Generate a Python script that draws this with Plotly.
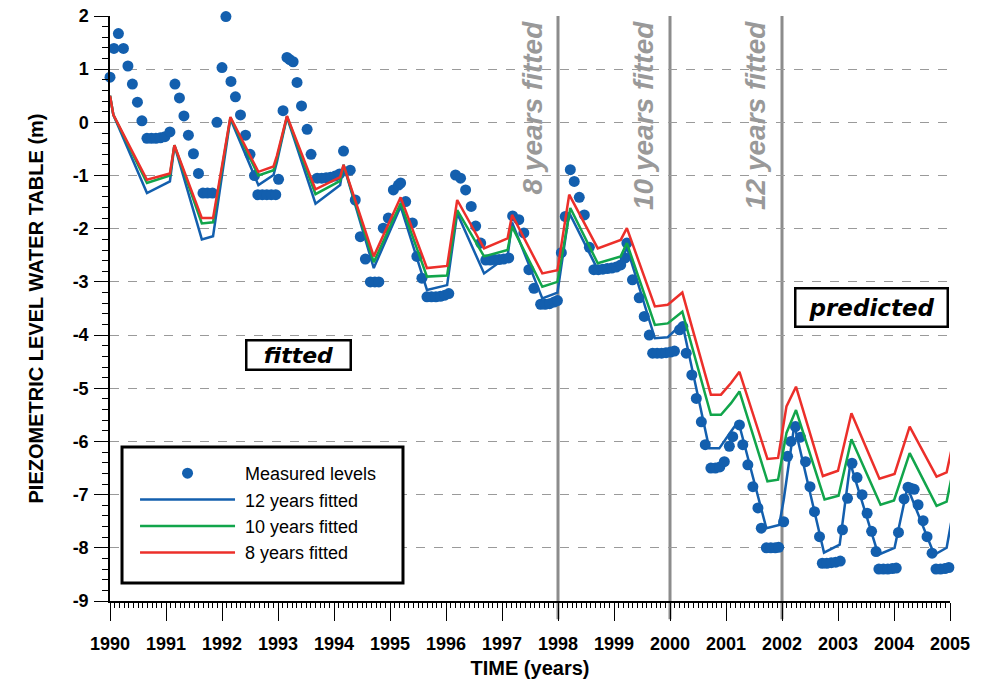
import plotly.graph_objects as go

# ---------------- data ----------------
meas_t = [1990.00, 1990.07, 1990.15, 1990.24, 1990.32, 1990.40, 1990.49, 1990.57, 1990.66, 1990.74,
          1990.82, 1990.90, 1990.98, 1991.07, 1991.16, 1991.24, 1991.32, 1991.40, 1991.49, 1991.58,
          1991.66, 1991.74, 1991.83, 1991.91, 1992.00, 1992.07, 1992.16, 1992.24, 1992.33, 1992.42,
          1992.50, 1992.58, 1992.64, 1992.72, 1992.80, 1992.88, 1992.96, 1993.01, 1993.09, 1993.16,
          1993.21, 1993.27, 1993.34, 1993.42, 1993.52, 1993.59, 1993.70, 1993.78, 1993.86, 1993.94,
          1994.02, 1994.10, 1994.17, 1994.29, 1994.38, 1994.47, 1994.56, 1994.65, 1994.73, 1994.80,
          1994.88, 1994.97, 1995.06, 1995.15, 1995.19, 1995.28, 1995.40, 1995.48, 1995.57, 1995.66,
          1995.74, 1995.82, 1995.90, 1995.98, 1996.05, 1996.17, 1996.26, 1996.35, 1996.45, 1996.53,
          1996.62, 1996.71, 1996.79, 1996.87, 1996.95, 1997.03, 1997.12, 1997.19, 1997.30, 1997.39,
          1997.48, 1997.57, 1997.69, 1997.77, 1997.85, 1997.93, 1997.99, 1998.06, 1998.13, 1998.22,
          1998.29, 1998.38, 1998.47, 1998.56, 1998.64, 1998.72, 1998.80, 1998.88, 1998.96, 1999.04,
          1999.12, 1999.20, 1999.23, 1999.33, 1999.45, 1999.54, 1999.63, 1999.69, 1999.77, 1999.85,
          1999.93, 2000.01, 2000.08, 2000.17, 2000.23, 2000.29, 2000.39, 2000.47, 2000.56, 2000.63,
          2000.73, 2000.81, 2000.89, 2000.97, 2001.06, 2001.12, 2001.24, 2001.30, 2001.39, 2001.48,
          2001.57, 2001.63, 2001.72, 2001.80, 2001.88, 2001.94, 2002.03, 2002.10, 2002.16, 2002.24,
          2002.33, 2002.42, 2002.50, 2002.58, 2002.67, 2002.72, 2002.80, 2002.88, 2002.96, 2003.04,
          2003.08, 2003.17, 2003.25, 2003.34, 2003.43, 2003.52, 2003.60, 2003.68, 2003.73, 2003.81,
          2003.89, 2003.97, 2004.04, 2004.08, 2004.18, 2004.25, 2004.30, 2004.36, 2004.43, 2004.52,
          2004.59, 2004.68, 2004.75, 2004.83, 2004.91, 2004.98, 2005.02]
meas_v = [0.85, 1.39, 1.67, 1.39, 1.06, 0.72, 0.38, 0.03, -0.30, -0.30,
          -0.30, -0.29, -0.27, -0.18, 0.72, 0.46, 0.12, -0.24, -0.59, -0.96,
          -1.33, -1.33, -1.33, 0.00, 1.03, 1.99, 0.77, 0.48, 0.14, -0.24,
          -0.60, -1.00, -1.36, -1.36, -1.36, -1.36, -1.36, -1.07, 0.22, 1.22,
          1.18, 1.14, 0.75, 0.31, -0.13, -0.60, -1.05, -1.05, -1.04, -1.03,
          -1.01, -0.97, -0.54, -0.90, -1.46, -2.15, -2.57, -3.00, -3.00, -3.00,
          -1.99, -1.80, -1.27, -1.18, -1.14, -1.49, -1.89, -2.52, -2.93, -3.28,
          -3.28, -3.28, -3.27, -3.25, -3.22, -0.99, -1.05, -1.27, -1.58, -1.95,
          -2.27, -2.59, -2.59, -2.58, -2.58, -2.57, -2.55, -1.76, -1.83, -2.08,
          -2.77, -3.12, -3.42, -3.42, -3.41, -3.38, -3.35, -2.45, -1.77, -0.89,
          -1.11, -1.41, -1.74, -2.35, -2.77, -2.77, -2.76, -2.75, -2.74, -2.72,
          -2.68, -2.55, -2.27, -2.96, -3.30, -3.65, -4.00, -4.34, -4.34, -4.34,
          -4.33, -4.32, -4.30, -3.90, -3.84, -4.34, -4.75, -5.19, -5.63, -6.06,
          -6.50, -6.50, -6.48, -6.38, -6.09, -5.91, -5.69, -6.06, -6.44, -6.85,
          -7.25, -7.63, -8.00, -8.00, -8.00, -7.99, -7.51, -6.28, -6.00, -5.72,
          -5.92, -6.38, -6.85, -7.32, -7.79, -8.29, -8.29, -8.28, -8.27, -8.25,
          -7.66, -7.07, -6.41, -6.68, -7.00, -7.35, -7.69, -8.07, -8.40, -8.40,
          -8.40, -8.39, -8.38, -7.71, -7.08, -6.86, -6.88, -6.90, -7.19, -7.49,
          -7.79, -8.10, -8.40, -8.40, -8.39, -8.37, -7.66]

fit12_t = [1990.0, 1990.06, 1990.66, 1991.07, 1991.15, 1991.64, 1991.84, 1992.15, 1992.65, 1992.92,
           1992.98, 1993.16, 1993.67, 1994.11, 1994.17, 1994.71, 1995.19, 1995.66, 1996.02, 1996.20,
           1996.68, 1997.10, 1997.18, 1997.72, 1997.99, 1998.20, 1998.71, 1999.12, 1999.23, 1999.73,
           1999.96, 2000.22, 2000.70, 2000.88, 2001.07, 2001.22, 2001.72, 2001.95, 2002.03, 2002.22,
           2002.75, 2003.03, 2003.22, 2003.72, 2004.01, 2004.24, 2004.72, 2004.94, 2005.02]
fit12_v = [0.50, 0.14, -1.33, -1.11, -0.43, -2.20, -2.14, 0.07, -1.18, -0.99,
           -0.75, 0.10, -1.53, -1.18, -0.80, -2.74, -1.58, -3.15, -3.06, -1.71,
           -2.84, -2.52, -1.88, -3.31, -3.20, -1.70, -2.77, -2.65, -2.35, -4.06,
           -4.04, -3.78, -6.13, -6.13, -5.84, -5.62, -7.63, -7.57, -7.10, -5.69,
           -8.09, -7.94, -6.41, -8.13, -8.00, -6.86, -8.13, -8.00, -7.53]

fit10_t = [1990.0, 1990.06, 1990.66, 1991.07, 1991.15, 1991.64, 1991.84, 1992.15, 1992.65, 1992.92,
           1992.98, 1993.16, 1993.67, 1994.11, 1994.17, 1994.71, 1995.19, 1995.66, 1996.02, 1996.20,
           1996.68, 1997.10, 1997.18, 1997.72, 1997.99, 1998.22, 1998.71, 1999.12, 1999.23, 1999.73,
           1999.96, 2000.22, 2000.73, 2000.91, 2001.09, 2001.24, 2001.74, 2001.93, 2002.08, 2002.25,
           2002.76, 2003.01, 2003.24, 2003.76, 2004.00, 2004.28, 2004.76, 2004.94, 2005.02]
fit10_v = [0.50, 0.14, -1.14, -1.00, -0.43, -1.90, -1.88, 0.09, -1.00, -0.90,
           -0.68, 0.11, -1.35, -1.10, -0.80, -2.63, -1.52, -2.90, -2.88, -1.65,
           -2.52, -2.40, -1.96, -3.09, -3.00, -1.61, -2.65, -2.52, -2.27, -3.81,
           -3.78, -3.56, -5.50, -5.50, -5.28, -5.06, -6.75, -6.72, -5.84, -5.41,
           -7.09, -7.02, -5.96, -7.19, -7.11, -6.22, -7.21, -7.13, -6.72]

fit8_t = [1990.0, 1990.06, 1990.66, 1991.07, 1991.15, 1991.64, 1991.84, 1992.15, 1992.65, 1992.92,
          1992.98, 1993.16, 1993.67, 1994.11, 1994.17, 1994.71, 1995.19, 1995.66, 1996.02, 1996.20,
          1996.68, 1997.10, 1997.18, 1997.72, 1997.99, 1998.20, 1998.71, 1999.12, 1999.23, 1999.73,
          1999.96, 2000.22, 2000.73, 2000.91, 2001.09, 2001.24, 2001.74, 2001.93, 2002.08, 2002.25,
          2002.73, 2003.00, 2003.24, 2003.74, 2004.01, 2004.28, 2004.76, 2004.94, 2005.02]
fit8_v = [0.50, 0.14, -1.08, -0.96, -0.43, -1.80, -1.80, 0.10, -0.93, -0.83,
          -0.63, 0.12, -1.26, -1.03, -0.80, -2.52, -1.41, -2.74, -2.70, -1.46,
          -2.37, -2.18, -1.74, -2.84, -2.78, -1.36, -2.37, -2.21, -1.99, -3.46,
          -3.43, -3.20, -5.12, -5.12, -4.90, -4.69, -6.33, -6.31, -5.34, -4.97,
          -6.65, -6.55, -5.47, -6.70, -6.61, -5.72, -6.66, -6.58, -6.19]

year_ticks = list(range(1990, 2006))
level_ticks = list(range(-9, 3))
level_labels = ["-9", "-8", "-7", "-6", "-5", "-4", "-3", "-2", "-1", "0", "1", "2"]
split_years = [1998, 2000, 2002]
split_labels = ["8 years fitted", "10 years fitted", "12 years fitted"]
series_names = ["Measured levels", "12 years fitted", "10 years fitted", "8 years fitted"]

BLUE = "#135fae"
GREEN = "#11a54b"
RED = "#ec2f2a"
FONT = "Liberation Sans, Arial, sans-serif"
NB = "\u00a0"

fig = go.Figure()
fig.add_trace(go.Scatter(x=meas_t, y=meas_v, mode="markers", name=NB + series_names[0] + NB * 4,
                         legendgroup="a", marker=dict(color=BLUE, size=11), cliponaxis=False))
fig.add_trace(go.Scatter(x=fit12_t, y=fit12_v, mode="lines", name=NB + series_names[1],
                         legendgroup="b", line=dict(color=BLUE, width=2.5), cliponaxis=False))
fig.add_trace(go.Scatter(x=fit10_t, y=fit10_v, mode="lines", name=NB + series_names[2],
                         legendgroup="c", line=dict(color=GREEN, width=2.5), cliponaxis=False))
fig.add_trace(go.Scatter(x=fit8_t, y=fit8_v, mode="lines", name=NB + series_names[3],
                         legendgroup="d", line=dict(color=RED, width=2.5), cliponaxis=False))

for yr, lab in zip(split_years, split_labels):
    fig.add_shape(type="line", x0=yr, x1=yr, y0=-0.031, y1=1, xref="x", yref="paper",
                  line=dict(color="#8c8c8c", width=3), layer="below")
    fig.add_annotation(x=yr, y=1, xref="x", yref="paper", text=lab, textangle=-90,
                       showarrow=False, xanchor="right", yanchor="top", xshift=-9, yshift=-3,
                       font=dict(family=FONT, size=28, color="#999999", weight="bold", style="italic"))

# legend frame (white box with heavy border)
fig.add_shape(type="rect", xref="paper", yref="paper", x0=0.0143, x1=0.3488, y0=0.0308, y1=0.2632,
              fillcolor="white", line=dict(color="black", width=3), layer="above")

fig.add_annotation(x=1993.37, y=-4.37, text=NB * 2 + "fitted" + NB * 2, showarrow=False,
                   font=dict(family="DejaVu Sans, sans-serif", size=22, color="black",
                             weight="bold", style="italic"),
                   bordercolor="black", borderwidth=2.5, borderpad=1, bgcolor="white")
fig.add_annotation(x=2003.60, y=-3.49, text=NB + "predicted" + NB, showarrow=False,
                   font=dict(family="DejaVu Sans, sans-serif", size=23, color="black",
                             weight="bold", style="italic"),
                   bordercolor="black", borderwidth=2.5, borderpad=5, bgcolor="white")

fig.update_layout(
    width=981, height=679,
    margin=dict(l=110, r=31, t=16, b=78, autoexpand=False),
    plot_bgcolor="white", paper_bgcolor="white",
    font=dict(family=FONT, color="black"),
    showlegend=True,
    legend=dict(x=0.0298, y=0.2496, xanchor="left", yanchor="top",
                borderwidth=0, bgcolor="rgba(0,0,0,0)",
                font=dict(family=FONT, size=18, color="black"),
                itemwidth=95, tracegroupgap=0, traceorder="grouped"),
    xaxis=dict(range=[1990, 2005], tickvals=year_ticks, ticktext=[str(y) for y in year_ticks],
               automargin=False,
               showgrid=False, zeroline=False, showline=True, linecolor="black", linewidth=1.5,
               ticks="outside", ticklen=18, tickwidth=1.2, tickcolor="black",
               ticklabelstandoff=8,
               minor=dict(dtick=1/12, tick0=1990, ticks="outside", ticklen=5, tickcolor="black",
                          tickwidth=1, showgrid=False),
               tickfont=dict(family=FONT, size=18, weight="bold"),
               title=dict(text="TIME (years)", font=dict(family=FONT, size=20, weight="bold"),
                          standoff=8)),
    yaxis=dict(range=[-9, 2], tickvals=level_ticks, ticktext=level_labels, automargin=False,
               showgrid=True, gridcolor="#9a9a9a", griddash="dash", gridwidth=1,
               zeroline=False, showline=True, linecolor="black", linewidth=1.5,
               ticks="outside", ticklen=14, tickwidth=1.2, tickcolor="black",
               ticklabelstandoff=2,
               minor=dict(dtick=0.2, tick0=0, ticks="outside", ticklen=6, tickcolor="black",
                          tickwidth=1, showgrid=False),
               tickfont=dict(family=FONT, size=18, weight="bold"),
               title=dict(text="PIEZOMETRIC LEVEL WATER TABLE (m)",
                          font=dict(family=FONT, size=20, weight="bold"), standoff=24)),
)

fig.write_html("out.html")
